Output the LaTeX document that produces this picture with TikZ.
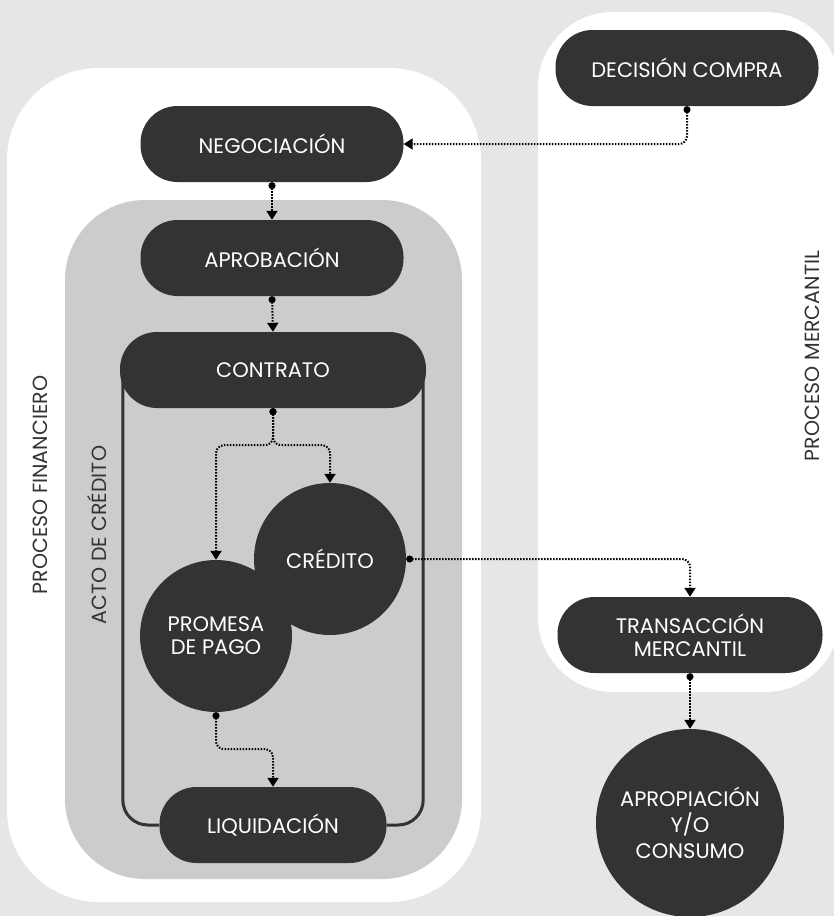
\documentclass[tikz,border=0pt]{standalone}
\usepackage{fontspec}
\setmainfont{Poppins}
\usetikzlibrary{arrows.meta}
\definecolor{bgc}{HTML}{E6E6E6}
\definecolor{ink}{HTML}{333333}
\definecolor{panelgrey}{HTML}{CCCCCC}
\pgfdeclarelayer{bg}
\pgfsetlayers{bg,main}
\begin{document}
\begin{tikzpicture}[x=1pt,y=-1pt,
  pill/.style={fill=ink, text=white, rounded corners=37pt, minimum width=263pt,
    minimum height=76pt, inner sep=0pt, align=center,
    font=\fontsize{21}{23}\selectfont},
  disc/.style={circle, fill=ink, text=white, inner sep=0pt, align=center,
    font=\fontsize{21}{23}\selectfont},
  link/.style={draw=black, line width=2pt, dash pattern=on 1.5pt off 1.5pt,
    rounded corners=8pt, {Circle[length=7pt]}-{Triangle[width=11pt,length=9pt]}},
  bracket/.style={draw=ink, line width=3pt, rounded corners=25pt},
  sidelabel/.style={text=ink, rotate=90, font=\fontsize{20.5}{24}\selectfont},
]
\useasboundingbox (0,0) rectangle (834,916);

% panels
\begin{pgfonlayer}{bg}
  \fill[bgc] (0,0) rectangle (834,916);
  \fill[white, rounded corners=92pt] (7,68) rectangle (481,902);
  \fill[white, rounded corners=75pt] (538,12) rectangle (840,692);
  \fill[panelgrey, rounded corners=80pt] (65,200) rectangle (462,879);
\end{pgfonlayer}

% side labels
\node[sidelabel] (lblfin) at (40,485) {PROCESO FINANCIERO};
\node[sidelabel] (lblacto) at (97,535) {ACTO DE CRÉDITO};
\node[sidelabel] (lblmer) at (812,356) {PROCESO MERCANTIL};

% process steps
\node[pill] (dec) at (687,68) {DECISIÓN COMPRA};
\node[pill] (neg) at (272,144) {NEGOCIACIÓN};
\node[pill] (apr) at (272,258) {APROBACIÓN};
\node[pill, minimum width=306pt] (con) at (273,370) {CONTRATO};
\node[disc, minimum size=152pt] (cre) at (330,559) {CRÉDITO};
\node[disc, minimum size=152pt] (pro) at (216,636) {PROMESA\\DE PAGO};
\node[pill, minimum width=227pt] (liq) at (273,825) {LIQUIDACIÓN};
\node[pill, minimum width=265pt] (tra) at (690,635) {TRANSACCIÓN\\MERCANTIL};
\node[disc, minimum size=188pt, font=\fontsize{21}{26}\selectfont] (apc) at (690,823)
  {APROPIACIÓN\\Y/O\\CONSUMO};

% frame of the contract, from CONTRATO down to LIQUIDACIÓN
\begin{pgfonlayer}{bg}
  \draw[bracket] ([xshift=3pt]con.west) |- (liq.west);
  \draw[bracket] ([xshift=-3pt]con.east) |- (liq.east);
\end{pgfonlayer}

% flow
\draw[link] (dec.south) |- (neg.east);
\draw[link] (neg.south) -- (apr.north);
\draw[link] (apr.south) -- (con.north);
\draw[link] (con.south) -- ++(0,37) -| (pro.north);
\draw[link] (con.south) -- ++(0,37) -| (cre.north);
\draw[link] (cre.east) -| (tra.north);
\draw[link] (pro.south) -- ++(0,37) -| (liq.north);
\draw[link] (tra.south) -- (apc.north);
\end{tikzpicture}
\end{document}
